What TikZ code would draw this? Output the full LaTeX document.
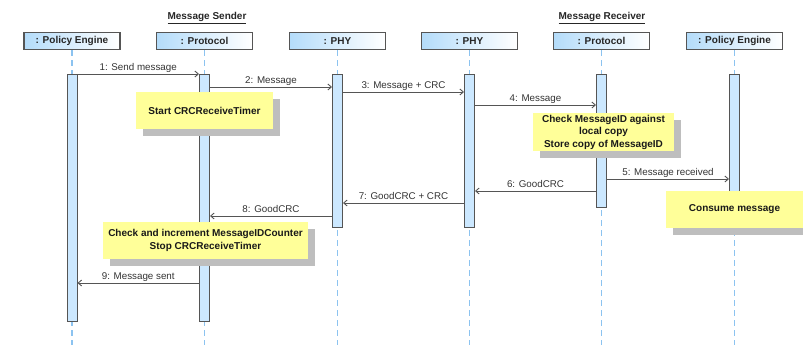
\documentclass[tikz,border=0pt]{standalone}
\usepackage{fontspec}
\setmainfont{Liberation Sans}
\usetikzlibrary{arrows.meta,positioning,shadows,calc}

\definecolor{lifeblue}{RGB}{140,195,240}
\definecolor{barblue}{RGB}{204,232,255}
\definecolor{headblue}{RGB}{180,220,250}
\definecolor{noteyellow}{RGB}{255,255,153}
\definecolor{linegray}{RGB}{85,85,85}
\definecolor{shadegray}{RGB}{190,190,190}

\newcommand\seqfont{\fontsize{10}{12.5}\selectfont}
\newcommand\lblfont{\fontsize{9.8}{11}\selectfont}

\tikzset{
  head/.style={draw=linegray, line width=1.1pt, left color=headblue, right color=white,
    minimum width=96pt, minimum height=17pt, inner sep=0pt, text=black!85, font=\seqfont\bfseries},
  grouptitle/.style={font=\seqfont\bfseries, text=black!85, inner sep=0pt},
  life/.style={lifeblue, line width=1.2pt, dash pattern=on 6pt off 4pt},
  actbar/.style={draw=linegray, line width=1pt, fill=barblue, minimum width=10pt, inner sep=0pt, anchor=north},
  msg/.style={linegray, line width=0.9pt, -{Straight Barb[length=3.5pt,width=6pt]}},
  lbl/.style={above, inner sep=1.5pt, text depth=2pt, font=\lblfont, text=black!80},
  note/.style={fill=noteyellow, inner sep=0pt, align=center, text=black!90, font=\seqfont\bfseries,
    drop shadow={shadow xshift=7pt, shadow yshift=-7pt, fill=shadegray, opacity=1}},
}

\begin{document}
\begin{tikzpicture}[x=1pt, y=-1pt]
    \useasboundingbox (0,0) rectangle (803,345);

    \node[grouptitle] (sender) at (207,18) {\underline{Message Sender}};
    \node[grouptitle] (receiver) at (602,18) {\underline{Message Receiver}};

    \node[head] (pe1) at (72,41) {: Policy Engine};
    \node[head] (pr1) at (204.5,41) {: Protocol};
    \node[head] (phy1) at (337.5,41) {: PHY};
    \node[head] (phy2) at (469.5,41) {: PHY};
    \node[head] (pr2) at (601.5,41) {: Protocol};
    \node[head] (pe2) at (734.5,41) {: Policy Engine};

    \foreach \n in {pe1,pr1,phy1,phy2,pr2,pe2}
        \draw[life] (\n.south) -- (\n.south |- 0,345);

    \node[actbar, minimum height=247pt] (a1) at (pe1.south |- 0,74) {};
    \node[actbar, minimum height=247pt] (a2) at (pr1.south |- 0,74) {};
    \node[actbar, minimum height=153pt] (a3) at (phy1.south |- 0,74) {};
    \node[actbar, minimum height=153pt] (a4) at (phy2.south |- 0,74) {};
    \node[actbar, minimum height=133pt] (a5) at (pr2.south |- 0,74) {};
    \node[actbar, minimum height=150pt] (a6) at (pe2.south |- 0,74) {};

    \draw[msg] (a1.east |- 0,74) -- node[lbl] {1: Send message} (a2.west |- 0,74);
    \draw[msg] (a2.east |- 0,87) -- node[lbl] {2: Message} (a3.west |- 0,87);
    \draw[msg] (a3.east |- 0,92) -- node[lbl] {3: Message + CRC} (a4.west |- 0,92);
    \draw[msg] (a4.east |- 0,105) -- node[lbl] {4: Message} (a5.west |- 0,105);
    \draw[msg] (a5.east |- 0,179) -- node[lbl] {5: Message received} (a6.west |- 0,179);
    \draw[msg] (a5.west |- 0,191) -- node[lbl] {6: GoodCRC} (a4.east |- 0,191);
    \draw[msg] (a4.west |- 0,203) -- node[lbl] {7: GoodCRC + CRC} (a3.east |- 0,203);
    \draw[msg] (a3.west |- 0,216) -- node[lbl] {8: GoodCRC} (a2.east |- 0,216);
    \draw[msg] (a2.west |- 0,283) -- node[lbl] {9: Message sent} (a1.east |- 0,283);

    \node[note, minimum width=137pt, minimum height=37pt] (n1) at (204.5,110.5) {Start CRCReceiveTimer};
    \node[note, minimum width=141pt, minimum height=38pt] (n2) at (603.5,132) {Check MessageID against\\local copy\\Store copy of MessageID};
    \node[note, minimum width=137pt, minimum height=37pt] (n3) at (734.5,209.5) {Consume message};
    \node[note, minimum width=205pt, minimum height=37pt] (n4) at (205.5,240.5) {Check and increment MessageIDCounter\\Stop CRCReceiveTimer};
\end{tikzpicture}
\end{document}
